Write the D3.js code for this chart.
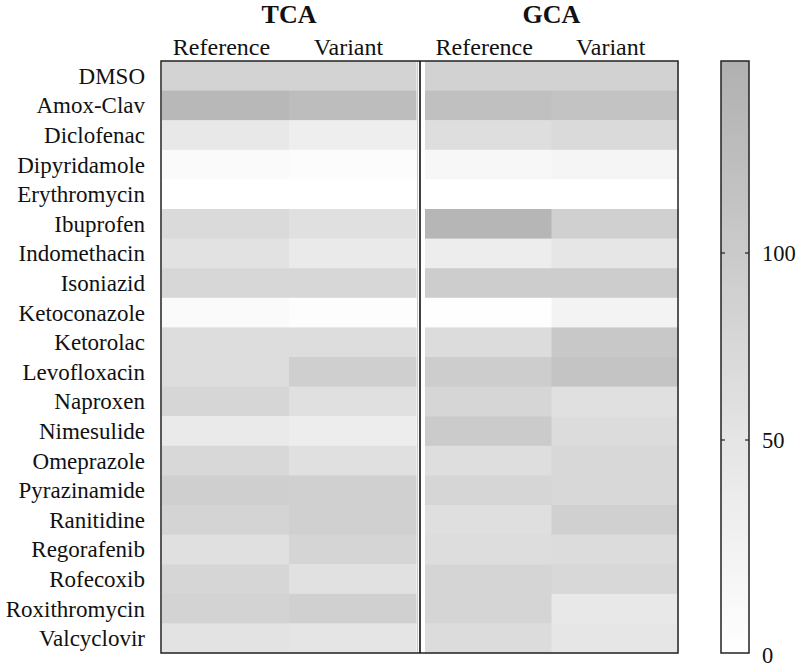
<!DOCTYPE html>
<html>
<head>
<meta charset="utf-8">
<script src="https://cdn.jsdelivr.net/npm/d3@7"></script>
<style>
  body { margin: 0; background: #fff; }
  svg { display: block; }
  text { font-family: "Liberation Serif", "Times New Roman", serif; fill: #111; }
</style>
</head>
<body>
<svg id="chart" width="800" height="668"></svg>
<script>
const drugs = ["DMSO","Amox-Clav","Diclofenac","Dipyridamole","Erythromycin","Ibuprofen","Indomethacin","Isoniazid","Ketoconazole","Ketorolac","Levofloxacin","Naproxen","Nimesulide","Omeprazole","Pyrazinamide","Ranitidine","Regorafenib","Rofecoxib","Roxithromycin","Valcyclovir"];
const groups = ["TCA","GCA"];
const conditions = ["Reference","Variant"];

const tcaReference = [84,135,44,9,0,70,55,76,9,65,65,78,40,74,91,82,59,78,84,53];
const tcaVariant   = [84,125,32,6,0,59,40,76,4,65,91,59,34,59,89,89,80,57,89,49];
const gcaReference = [86,120,63,15,0,139,34,95,1,66,95,78,99,63,78,61,65,80,80,66];
const gcaVariant   = [86,114,70,19,0,89,47,95,23,104,112,59,66,74,74,89,66,74,44,47];

const colorbarTicks = [0,50,100];
const colorMax = 150;

const seriesByGroup = {
  TCA: { Reference: tcaReference, Variant: tcaVariant },
  GCA: { Reference: gcaReference, Variant: gcaVariant }
};

const svg = d3.select("#chart");

const yTop = 61, yBottom = 653;
const outerLeft = 161, outerRight = 678, dividerX = 420;
const panelRanges = { TCA: [162, 416], GCA: [425, 678] };

const y = d3.scaleBand().domain(drugs).range([yTop, yBottom]).paddingInner(0).paddingOuter(0);
const color = d3.scaleLinear().domain([0, colorMax]).range(["#ffffff", "#b0b0b0"]).clamp(true);

groups.forEach(g => {
  const x = d3.scaleBand().domain(conditions).range(panelRanges[g]);
  const cells = [];
  conditions.forEach(c => {
    seriesByGroup[g][c].forEach((v, i) => cells.push({ drug: drugs[i], cond: c, value: v }));
  });
  const panel = svg.append("g").attr("class", "panel-" + g);
  panel.selectAll("rect.cell").data(cells).join("rect")
    .attr("class", "cell")
    .attr("x", d => x(d.cond))
    .attr("y", d => y(d.drug))
    .attr("width", x.bandwidth() + 0.5)
    .attr("height", y.bandwidth() + 0.5)
    .attr("fill", d => color(d.value));

  const [r0, r1] = panelRanges[g];
  svg.append("text")
    .attr("x", (r0 + r1) / 2)
    .attr("y", 23)
    .attr("text-anchor", "middle")
    .attr("font-size", 26)
    .attr("font-weight", "bold")
    .text(g);

  svg.selectAll(null).data(conditions).join("text")
    .attr("x", d => x(d) + x.bandwidth() / 2 - 4)
    .attr("y", 55)
    .attr("text-anchor", "middle")
    .attr("font-size", 24)
    .text(d => d);
});

svg.append("line")
  .attr("x1", 417.5).attr("x2", 417.5).attr("y1", yTop).attr("y2", yBottom)
  .attr("stroke", "#c8c8c8").attr("stroke-width", 1);

svg.append("rect")
  .attr("x", outerLeft).attr("y", yTop)
  .attr("width", outerRight - outerLeft).attr("height", yBottom - yTop)
  .attr("fill", "none").attr("stroke", "#222").attr("stroke-width", 1.5);
svg.append("line")
  .attr("x1", dividerX).attr("x2", dividerX).attr("y1", yTop).attr("y2", yBottom)
  .attr("stroke", "#111").attr("stroke-width", 1.6);

svg.selectAll("text.row").data(drugs).join("text")
  .attr("class", "row")
  .attr("x", 145)
  .attr("y", d => y(d) + y.bandwidth() / 2)
  .attr("dy", "0.35em")
  .attr("text-anchor", "end")
  .attr("font-size", 23)
  .text(d => d);

const cbX = 721, cbW = 28;
const cbY = d3.scaleLinear().domain([0, 50, 100, colorMax]).range([653, 440, 253, 61]);
const defs = svg.append("defs");
const grad = defs.append("linearGradient")
  .attr("id", "cbgrad").attr("x1", 0).attr("x2", 0).attr("y1", 1).attr("y2", 0);
const stopVals = d3.range(0, colorMax + 0.001, 5);
grad.selectAll("stop").data(stopVals).join("stop")
  .attr("offset", v => (653 - cbY(v)) / (653 - 61))
  .attr("stop-color", v => color(v));
svg.append("rect")
  .attr("x", cbX).attr("y", 61).attr("width", cbW).attr("height", 592)
  .attr("fill", "url(#cbgrad)").attr("stroke", "#222").attr("stroke-width", 1.5);

const tickG = svg.append("g");
colorbarTicks.filter(t => t > 0).forEach(t => {
  tickG.append("line").attr("x1", cbX).attr("x2", cbX + 4)
    .attr("y1", cbY(t)).attr("y2", cbY(t)).attr("stroke", "#222").attr("stroke-width", 1.2);
  tickG.append("line").attr("x1", cbX + cbW - 4).attr("x2", cbX + cbW)
    .attr("y1", cbY(t)).attr("y2", cbY(t)).attr("stroke", "#222").attr("stroke-width", 1.2);
});
svg.selectAll("text.cbt").data(colorbarTicks).join("text")
  .attr("class", "cbt")
  .attr("x", 762)
  .attr("y", d => cbY(d) + (d === 0 ? 2 : 0))
  .attr("dy", "0.35em")
  .attr("font-size", 22.5)
  .text(d => d);
</script>
</body>
</html>
